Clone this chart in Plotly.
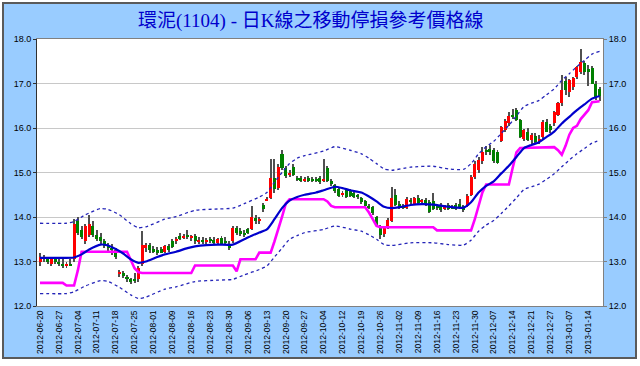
import plotly.graph_objects as go

# ---------------- data ----------------
tick_labels = ["2012-06-20", "2012-06-27", "2012-07-04", "2012-07-11", "2012-07-18",
               "2012-07-25", "2012-08-01", "2012-08-09", "2012-08-16", "2012-08-23",
               "2012-08-30", "2012-09-06", "2012-09-13", "2012-09-20", "2012-09-27",
               "2012-10-04", "2012-10-12", "2012-10-19", "2012-10-26", "2012-11-02",
               "2012-11-09", "2012-11-16", "2012-11-23", "2012-11-30", "2012-12-07",
               "2012-12-14", "2012-12-21", "2012-12-27", "2013-01-07", "2013-01-14"]

open_ = [13.00, 13.10, 13.05, 12.95, 13.05, 13.00, 12.95, 12.90, 12.95, 13.05,
         13.90, 13.70, 13.45, 13.60, 13.80, 13.60, 13.55, 13.45, 13.35, 13.30,
         13.25, 12.72, 12.75, 12.65, 12.60, 12.60, 12.60, 12.95, 13.30, 13.38,
         13.28, 13.25, 13.28, 13.22, 13.35, 13.45, 13.45, 13.58, 13.52, 13.60,
         13.55, 13.58, 13.45, 13.48, 13.45, 13.50, 13.48, 13.42, 13.52, 13.45,
         13.40, 13.45, 13.75, 13.68, 13.62, 13.72, 13.72, 13.98, 13.90, 14.28,
         14.38, 14.42, 14.88, 14.65, 15.42, 15.10, 14.95, 15.12, 14.88, 14.88,
         14.82, 14.88, 14.85, 14.86, 14.88, 14.80, 15.10, 14.80, 14.72, 14.62,
         14.50, 14.60, 14.60, 14.55, 14.48, 14.42, 14.35, 14.25, 14.22, 14.00,
         13.78, 13.62, 13.78, 13.90, 14.50, 14.30, 14.25, 14.20, 14.38, 14.30,
         14.42, 14.35, 14.38, 14.33, 14.35, 14.25, 14.28, 14.18, 14.28, 14.22,
         14.28, 14.30, 14.25, 14.25, 14.50, 14.90, 15.05, 15.25, 15.50, 15.52,
         15.50, 15.45, 15.70, 15.95, 16.12, 16.30, 16.40, 16.18, 15.75, 15.92,
         15.72, 15.82, 15.72, 15.80, 16.14, 16.05, 16.12, 16.30, 16.56, 17.05,
         16.80, 16.92, 17.15, 17.26, 17.45, 17.32, 17.35, 17.00, 16.88]
high = [13.20, 13.15, 13.10, 13.10, 13.10, 13.05, 13.05, 13.00, 13.05, 13.95,
        14.00, 13.80, 13.85, 14.05, 13.90, 13.70, 13.65, 13.50, 13.42, 13.40,
        13.30, 12.80, 12.78, 12.70, 12.62, 12.75, 12.90, 13.68, 13.42, 13.42,
        13.35, 13.32, 13.32, 13.38, 13.40, 13.50, 13.55, 13.65, 13.62, 13.70,
        13.60, 13.62, 13.55, 13.55, 13.52, 13.55, 13.55, 13.52, 13.58, 13.55,
        13.45, 13.80, 13.80, 13.75, 13.70, 13.76, 14.25, 14.05, 14.00, 14.32,
        14.45, 15.30, 15.30, 15.20, 15.50, 15.15, 15.05, 15.20, 14.92, 14.92,
        14.90, 14.92, 14.90, 14.90, 14.92, 15.30, 15.15, 14.85, 14.75, 14.65,
        14.58, 14.65, 14.62, 14.60, 14.52, 14.46, 14.38, 14.30, 14.25, 14.02,
        13.82, 13.80, 13.98, 14.68, 14.62, 14.35, 14.30, 14.45, 14.42, 14.45,
        14.50, 14.40, 14.42, 14.38, 14.55, 14.30, 14.32, 14.28, 14.32, 14.28,
        14.32, 14.40, 14.28, 14.52, 14.95, 15.25, 15.35, 15.58, 15.60, 15.62,
        15.55, 15.50, 16.05, 16.20, 16.35, 16.42, 16.45, 16.20, 15.98, 16.00,
        15.88, 15.88, 15.85, 16.18, 16.20, 16.10, 16.38, 16.58, 17.20, 17.15,
        17.10, 17.15, 17.40, 17.78, 17.50, 17.42, 17.40, 17.05, 16.92]
low = [12.90, 13.00, 12.95, 12.90, 12.95, 12.90, 12.85, 12.85, 12.90, 13.00,
       13.60, 13.50, 13.40, 13.55, 13.55, 13.45, 13.40, 13.30, 13.20, 13.15,
       13.05, 12.65, 12.62, 12.55, 12.50, 12.52, 12.55, 12.90, 13.22, 13.20,
       13.20, 13.15, 13.18, 13.20, 13.22, 13.30, 13.40, 13.48, 13.50, 13.50,
       13.45, 13.40, 13.40, 13.40, 13.40, 13.42, 13.40, 13.38, 13.38, 13.38,
       13.25, 13.42, 13.60, 13.58, 13.55, 13.62, 13.70, 13.85, 13.85, 14.12,
       14.35, 14.40, 14.55, 14.60, 15.05, 14.88, 14.90, 14.92, 14.80, 14.78,
       14.78, 14.78, 14.78, 14.78, 14.75, 14.78, 14.78, 14.70, 14.55, 14.45,
       14.45, 14.42, 14.45, 14.42, 14.40, 14.30, 14.22, 14.18, 14.05, 13.80,
       13.50, 13.55, 13.72, 13.88, 14.25, 14.18, 14.18, 14.18, 14.30, 14.28,
       14.30, 14.30, 14.25, 14.10, 14.15, 14.15, 14.12, 14.15, 14.15, 14.18,
       14.15, 14.18, 14.12, 14.22, 14.48, 14.85, 15.00, 15.20, 15.40, 15.40,
       15.22, 15.20, 15.68, 15.90, 16.05, 16.20, 16.15, 15.78, 15.70, 15.70,
       15.65, 15.65, 15.65, 15.75, 15.90, 15.88, 16.05, 16.28, 16.50, 16.75,
       16.70, 16.85, 17.10, 17.22, 17.20, 16.95, 16.98, 16.62, 16.60]
close = [13.10, 13.05, 13.00, 13.05, 13.00, 12.95, 12.90, 12.95, 12.92, 13.85,
         13.65, 13.55, 13.80, 13.85, 13.60, 13.50, 13.45, 13.35, 13.30, 13.25,
         13.10, 12.75, 12.68, 12.60, 12.55, 12.58, 12.85, 13.38, 13.38, 13.25,
         13.22, 13.20, 13.20, 13.35, 13.25, 13.32, 13.50, 13.50, 13.58, 13.55,
         13.58, 13.45, 13.48, 13.45, 13.48, 13.45, 13.42, 13.50, 13.40, 13.42,
         13.30, 13.75, 13.65, 13.62, 13.60, 13.65, 14.00, 13.90, 13.95, 14.18,
         14.40, 14.88, 14.62, 15.12, 15.10, 14.92, 15.00, 14.95, 14.84, 14.80,
         14.85, 14.80, 14.80, 14.80, 14.78, 14.86, 14.80, 14.75, 14.58, 14.48,
         14.52, 14.45, 14.48, 14.46, 14.45, 14.33, 14.25, 14.22, 14.08, 13.85,
         13.60, 13.75, 13.94, 14.43, 14.28, 14.22, 14.22, 14.40, 14.35, 14.42,
         14.32, 14.36, 14.28, 14.12, 14.18, 14.20, 14.15, 14.25, 14.18, 14.20,
         14.18, 14.22, 14.15, 14.48, 14.90, 15.20, 15.28, 15.45, 15.48, 15.45,
         15.25, 15.22, 16.02, 16.15, 16.28, 16.25, 16.18, 15.80, 15.95, 15.72,
         15.85, 15.68, 15.75, 16.14, 15.92, 15.95, 16.36, 16.56, 16.86, 16.85,
         17.08, 17.12, 17.37, 17.48, 17.25, 17.28, 17.00, 16.70, 16.72]

# moving average (blue) read at bar positions
ma_x = [0, 5, 9, 11, 13, 16, 18, 20, 22, 24, 26, 28, 31, 33, 36, 39, 41, 44, 47, 51,
        54, 56, 58, 60, 62, 64, 66, 68, 70, 73, 75, 78, 80, 82, 85, 87, 89, 91, 93, 95,
        98, 101, 104, 108, 112, 114, 116, 118, 120, 122, 124, 126, 128, 130, 132, 134,
        136, 138, 140, 142, 144, 146, 148]
ma_y = [13.08, 13.08, 13.09, 13.16, 13.27, 13.38, 13.36, 13.28, 13.18, 13.05, 12.97,
        13.00, 13.10, 13.16, 13.22, 13.30, 13.34, 13.37, 13.38, 13.38, 13.50, 13.58,
        13.65, 13.72, 13.95, 14.20, 14.37, 14.45, 14.50, 14.55, 14.60, 14.68, 14.65,
        14.60, 14.55, 14.46, 14.35, 14.23, 14.20, 14.22, 14.27, 14.29, 14.28, 14.23,
        14.21, 14.33, 14.55, 14.70, 14.80, 14.98, 15.15, 15.35, 15.55, 15.62, 15.68,
        15.80, 15.92, 16.10, 16.25, 16.40, 16.53, 16.66, 16.72]

band_x = [0, 7, 9, 12, 16, 18, 21, 24, 26, 28, 33, 36, 41, 47, 51, 54, 58, 60, 62, 64,
          66, 68, 70, 75, 78, 82, 85, 87, 89, 91, 93, 98, 104, 108, 112, 114, 116, 118,
          120, 122, 124, 126, 128, 130, 132, 134, 136, 138, 140, 142, 144, 146, 148]
upper_y = [13.86, 13.86, 13.90, 14.05, 14.19, 14.17, 14.05, 13.85, 13.76, 13.78, 13.95,
           14.01, 14.15, 14.18, 14.20, 14.30, 14.45, 14.55, 14.78, 15.00, 15.20, 15.32,
           15.38, 15.48, 15.58, 15.50, 15.42, 15.32, 15.20, 15.08, 15.05, 15.12, 15.14,
           15.08, 15.07, 15.20, 15.42, 15.58, 15.70, 15.88, 16.06, 16.27, 16.48, 16.56,
           16.62, 16.75, 16.88, 17.07, 17.22, 17.38, 17.52, 17.66, 17.72]
lower_y = [12.28, 12.28, 12.32, 12.45, 12.57, 12.55, 12.42, 12.25, 12.17, 12.20, 12.38,
           12.43, 12.55, 12.58, 12.60, 12.70, 12.82, 12.90, 13.10, 13.30, 13.50, 13.58,
           13.65, 13.72, 13.80, 13.73, 13.68, 13.60, 13.50, 13.38, 13.36, 13.42, 13.42,
           13.38, 13.37, 13.48, 13.68, 13.82, 13.92, 14.08, 14.25, 14.43, 14.62, 14.68,
           14.74, 14.85, 14.97, 15.13, 15.28, 15.42, 15.54, 15.66, 15.72]

# trailing stop (magenta)
stop_x = [0, 6, 7, 9, 10, 11, 23, 24, 25, 26, 27, 40, 41, 51, 52, 53, 57, 58, 61, 62,
          63, 64, 65, 66, 75, 76, 77, 78, 86, 87, 88, 89, 90, 104, 105, 114, 115, 116,
          117, 118, 124, 125, 126, 127, 136, 137, 138, 139, 140, 141, 142, 143, 144,
          145, 146, 148]
stop_y = [12.52, 12.52, 12.46, 12.46, 12.80, 13.22, 13.22, 13.02, 12.85, 12.76, 12.74,
          12.74, 12.91, 12.91, 12.78, 13.05, 13.05, 13.20, 13.20, 13.45, 13.70, 14.00,
          14.30, 14.40, 14.40, 14.35, 14.25, 14.22, 14.22, 14.10, 13.95, 13.80, 13.77,
          13.77, 13.70, 13.70, 13.95, 14.25, 14.55, 14.73, 14.73, 15.10, 15.45, 15.55,
          15.57, 15.50, 15.40, 15.60, 15.85, 16.00, 16.05, 16.20, 16.30, 16.40, 16.58,
          16.60]

# ---------------- figure ----------------
n = len(close)
idx = list(range(n))
up_col, dn_col = "#FF0000", "#008000"
colors = [up_col if c >= o else dn_col for o, c in zip(open_, close)]

fig = go.Figure()
# wicks (thin bars, drawn first so the bodies sit on top)
fig.add_trace(go.Bar(x=idx, y=[h - l for h, l in zip(high, low)], base=low,
                     marker=dict(color="#505050", line=dict(width=0)), width=0.26,
                     hoverinfo="skip", showlegend=False))
# bodies
fig.add_trace(go.Bar(x=idx, y=[abs(c - o) for o, c in zip(open_, close)],
                     base=[min(o, c) for o, c in zip(open_, close)],
                     marker=dict(color=colors, line=dict(width=0)), width=0.8,
                     showlegend=False))
band_style = dict(color="#2424B8", width=1.3, dash="dot", shape="spline", smoothing=0.6)
fig.add_trace(go.Scatter(x=band_x, y=upper_y, mode="lines", line=band_style, showlegend=False))
fig.add_trace(go.Scatter(x=band_x, y=lower_y, mode="lines", line=band_style, showlegend=False))
fig.add_trace(go.Scatter(x=stop_x, y=stop_y, mode="lines",
                         line=dict(color="#FF00FF", width=2.6), showlegend=False))
fig.add_trace(go.Scatter(x=ma_x, y=ma_y, mode="lines",
                         line=dict(color="#0000CC", width=2.2, shape="spline", smoothing=0.6),
                         showlegend=False))
# invisible trace to show the right-hand axis
fig.add_trace(go.Scatter(x=ma_x, y=ma_y, yaxis="y2", mode="lines",
                         line=dict(width=0, color="rgba(0,0,0,0)"), hoverinfo="skip",
                         showlegend=False))

L, R, T, B = 37, 603, 39, 306
W, H = 640, 366
pw, ph = R - L, B - T


def px(xp):
    return (xp - L) / pw


def py(yp):
    return (B - yp) / ph


tick_font = dict(family="Liberation Sans, Arial, sans-serif", size=9, color="#000000")
fig.update_layout(
    width=W, height=H,
    margin=dict(l=L, r=W - R, t=T, b=H - B, pad=0),
    paper_bgcolor="#FFFFFF", plot_bgcolor="#FFFFFF",
    barmode="overlay", bargap=0,
    showlegend=False,
    shapes=[
        dict(type="rect", xref="paper", yref="paper", x0=px(3), x1=px(636), y0=py(358), y1=py(3),
             fillcolor="#99CCFF", line=dict(color="#5A5A5A", width=2), layer="below"),
        dict(type="rect", xref="paper", yref="paper", x0=0, x1=1, y0=0, y1=1,
             fillcolor="#FFFFFF", line=dict(width=0), layer="below"),
    ],
    annotations=[
        dict(text="環泥(1104) - 日K線之移動停損參考價格線", xref="paper", yref="paper",
             x=px(311), y=py(21), xanchor="center", yanchor="middle", showarrow=False,
             font=dict(family="Liberation Serif, Noto Sans CJK TC, serif", size=19,
                       color="#0000CC")),
    ],
    xaxis=dict(range=[-0.8, n - 0.1], tickmode="array",
               tickvals=[i * 5 for i in range(len(tick_labels))], ticktext=tick_labels,
               tickangle=-90, tickfont=dict(family="Liberation Sans, Arial, sans-serif",
                                            size=8.5, color="#000000"),
               showgrid=False, zeroline=False, showline=True, mirror=True,
               linecolor="#808080", linewidth=1, ticks="", fixedrange=True),
    yaxis=dict(range=[12, 18], dtick=1, tickformat=".1f", tickfont=tick_font,
               showgrid=True, gridcolor="#C8C8C8", gridwidth=1, zeroline=False,
               showline=True, linecolor="#303030", linewidth=1, ticks="outside",
               ticklen=3, tickcolor="#303030"),
    yaxis2=dict(range=[12, 18], dtick=1, tickformat=".1f", tickfont=tick_font,
                overlaying="y", side="right", showgrid=False, zeroline=False,
                showline=True, linecolor="#808080", linewidth=1, ticks="outside",
                ticklen=3, tickcolor="#808080"),
)

fig.write_html("out.html")
